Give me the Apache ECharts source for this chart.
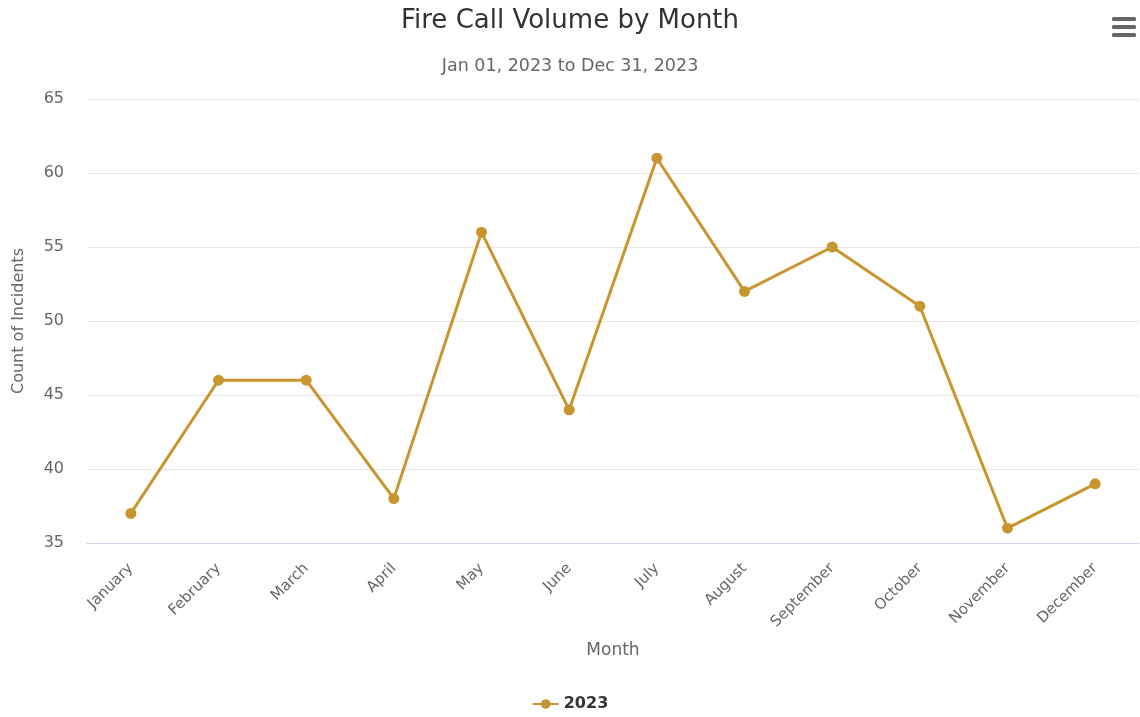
<!DOCTYPE html>
<html>
<head>
<meta charset="utf-8">
<script src="https://cdn.jsdelivr.net/npm/echarts@6/dist/echarts.min.js"></script>
<style>
  html, body { margin: 0; padding: 0; background: #fff; }
  #main { width: 1140px; height: 717px; }
</style>
</head>
<body>
<div id="main"></div>
<script>
// data
const months = ['January', 'February', 'March', 'April', 'May', 'June',
  'July', 'August', 'September', 'October', 'November', 'December']
const calls2023 = [37, 46, 46, 38, 56, 44, 61, 52, 55, 51, 36, 39]
const seriesName = '2023'

const font = "'DejaVu Sans', sans-serif"
const lineColor = '#c8952f'

const chart = echarts.init(document.getElementById('main'))
const option = {
  animation: false,
  textStyle: { fontFamily: font },
  title: {
    text: 'Fire Call Volume by Month',
    subtext: 'Jan 01, 2023 to Dec 31, 2023',
    left: 'center',
    top: 3,
    itemGap: 23,
    textStyle: { fontSize: 26, fontWeight: 'normal', color: '#333333', fontFamily: font },
    subtextStyle: { fontSize: 17.5, color: '#666666', fontFamily: font }
  },
  // menu icon, top right
  graphic: [{
    type: 'group',
    right: 4,
    top: 17,
    children: [0, 8, 16].map(y => ({
      type: 'rect',
      shape: { x: 0, y: y, width: 24, height: 4, r: 1.5 },
      style: { fill: '#666666' }
    }))
  }],
  legend: {
    bottom: 0,
    left: 'center',
    itemWidth: 26,
    itemHeight: 12,
    textStyle: { fontSize: 16, fontWeight: 'bold', color: '#333333', fontFamily: font },
    data: [seriesName]
  },
  grid: {
    left: 87,
    right: 1,
    top: 99,
    bottom: 174
  },
  xAxis: {
    type: 'category',
    data: months,
    boundaryGap: true,
    name: 'Month',
    nameLocation: 'middle',
    nameGap: 99,
    nameTextStyle: { fontSize: 17, color: '#666666' },
    axisLine: { lineStyle: { color: '#ccd6eb', width: 1 } },
    axisTick: { show: false },
    axisLabel: { rotate: 45, fontSize: 15, color: '#666666', margin: 23 }
  },
  yAxis: {
    type: 'value',
    min: 35,
    max: 65,
    interval: 5,
    name: 'Count of Incidents',
    nameLocation: 'middle',
    nameGap: 60,
    nameTextStyle: { fontSize: 16, color: '#666666' },
    axisLine: { show: false },
    axisTick: { show: false },
    axisLabel: { fontSize: 16, color: '#666666', margin: 23 },
    splitLine: { lineStyle: { color: '#e6e6e6', width: 1 } }
  },
  series: [{
    name: seriesName,
    type: 'line',
    data: calls2023,
    color: lineColor,
    symbol: 'circle',
    symbolSize: 11,
    lineStyle: { width: 3, color: lineColor },
    itemStyle: { color: lineColor }
  }]
}
chart.setOption(option)
</script>
</body>
</html>
